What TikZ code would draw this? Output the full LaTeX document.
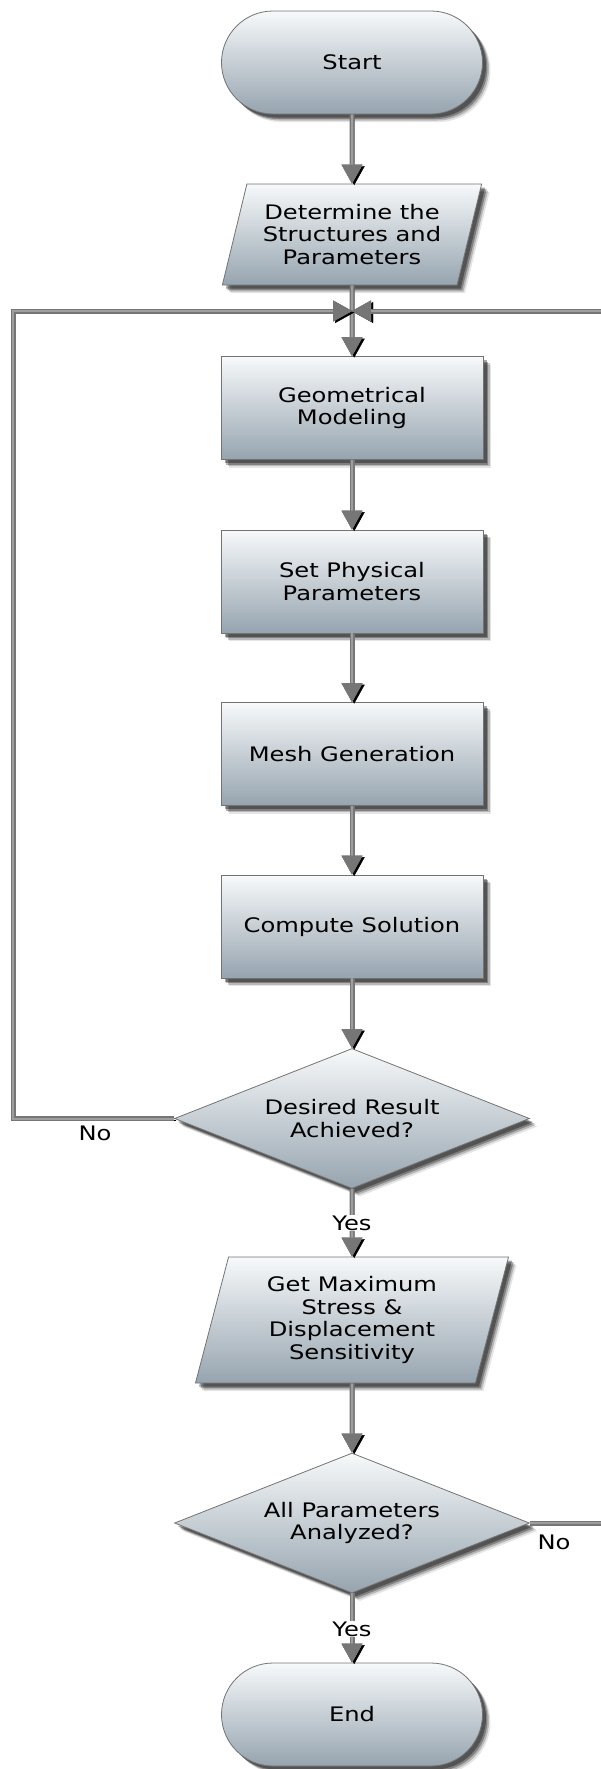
\documentclass[tikz,border=0pt]{standalone}
\usepackage{fontspec}
\setmainfont{DejaVu Sans}[FakeStretch=1.21]
\usetikzlibrary{shapes.geometric,shapes.misc,arrows.meta,shadows}

\definecolor{topc}{RGB}{247,249,250}
\definecolor{botc}{RGB}{150,164,175}
\definecolor{linec}{RGB}{118,118,118}
\definecolor{lineinner}{RGB}{158,158,158}

\tikzset{
  base/.style={draw=black!55, line width=0.8pt, top color=topc, bottom color=botc,
    align=center, font=\fontsize{20}{22.5}\selectfont, inner sep=0pt,
    drop shadow={shadow xshift=8pt, shadow yshift=-8pt, opacity=0.10, fill=black},
    drop shadow={shadow xshift=6.5pt, shadow yshift=-6.5pt, opacity=0.20, fill=black},
    drop shadow={shadow xshift=5pt, shadow yshift=-5pt, opacity=0.30, fill=black},
    drop shadow={shadow xshift=3.5pt, shadow yshift=-3.5pt, opacity=0.35, fill=black}},
  term/.style={base, rounded rectangle, minimum width=261pt, minimum height=103pt},
  proc/.style={base, rectangle, minimum width=262pt, minimum height=103pt},
  io/.style={base, trapezium, trapezium left angle=71, trapezium right angle=109,
    trapezium stretches=true},
  decision/.style={base, diamond, aspect=2.54, minimum width=355pt, minimum height=140pt},
  conn/.style={line width=2pt, draw=lineinner, line join=miter,
    -{Triangle[length=19pt,width=21pt,line width=0.4pt,color=linec,fill=linec]},
    preaction={transform canvas={shift={(2.2pt,-1.5pt)}}, draw=black, line width=0.1pt,
      -{Triangle[length=19pt,width=21pt,line width=0.4pt,color=black,fill=black]}},
    preaction={draw=linec, line width=5pt}},
  lbl/.style={font=\fontsize{20}{22.5}\selectfont, inner sep=1pt},
}

\begin{document}
\begin{tikzpicture}[x=1pt,y=-1pt]
\useasboundingbox (0,0) rectangle (600,1769);

\node[term] (start) at (352,62.5) {Start};
\node[io, minimum width=260pt, minimum height=101pt] (det) at (352,234.5) {Determine the\\Structures and\\Parameters};
\node[proc] (geom) at (352,408) {Geometrical\\Modeling};
\node[proc] (phys) at (352,581.5) {Set Physical\\Parameters};
\node[proc] (mesh) at (352,754) {Mesh Generation};
\node[proc] (comp) at (352,926.5) {Compute Solution};
\node[decision] (des) at (352,1118.5) {Desired Result\\Achieved?};
\node[io, trapezium left angle=75.3, trapezium right angle=104.7, minimum width=314pt, minimum height=126pt] (getmax) at (352,1320) {Get Maximum\\Stress \&\\Displacement\\Sensitivity};
\node[decision] (all) at (352,1523) {All Parameters\\Analyzed?};
\node[term] (end) at (352,1714.5) {End};

\coordinate (J) at (352,311);
\coordinate (LL) at (13,311);
\coordinate (RR) at (625,311);

\draw[conn] (start.south) -- (det.north);
\draw[conn] (det.south) -- (geom.north);
\draw[conn] (geom.south) -- (phys.north);
\draw[conn] (phys.south) -- (mesh.north);
\draw[conn] (mesh.south) -- (comp.north);
\draw[conn] (comp.south) -- (des.north);
\draw[conn] (des.south) -- (getmax.north);
\draw[conn] (getmax.south) -- (all.north);
\draw[conn] (all.south) -- (end.north);
\draw[conn] (des.west) -- (des.west -| LL) -- (LL) -- (J);
\draw[conn] (all.east) -- (all.east -| RR) -- (RR) -- (J);

\node[lbl] (no1) at (95,1133) {No};
\node[lbl, fill=white] (yes1) at (352,1223) {Yes};
\node[lbl] (no2) at (554,1542) {No};
\node[lbl, fill=white] (yes2) at (352,1629) {Yes};
\end{tikzpicture}
\end{document}
